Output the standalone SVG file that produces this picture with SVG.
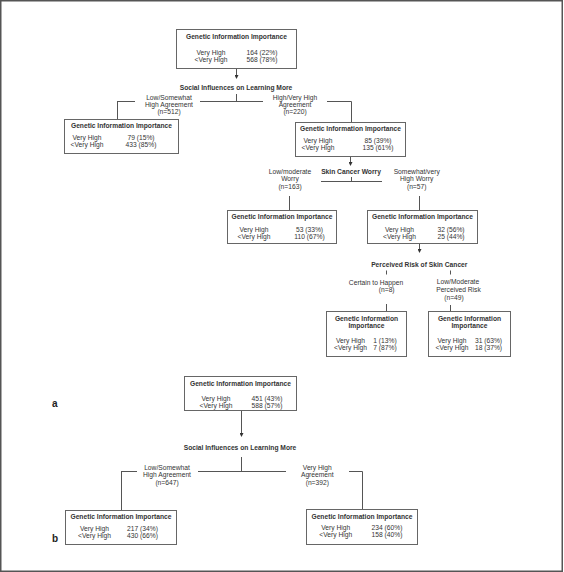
<svg xmlns="http://www.w3.org/2000/svg" width="564" height="572" viewBox="0 0 564 572">
<defs>
<marker id="ah" viewBox="0 0 10 10" refX="0" refY="5" markerWidth="4" markerHeight="4" markerUnits="userSpaceOnUse" orient="auto"><path d="M0,0 L10,5 L0,10 z" fill="#333"/></marker>
<style>
.box{fill:#fff;stroke:#666;stroke-width:1}
.t{font-family:"Liberation Sans",Arial,sans-serif;font-size:6.7px;fill:#333;text-anchor:middle}
.b{font-weight:bold}
.ln{stroke:#555;stroke-width:1;fill:none}
.lab{font-family:"Liberation Sans",Arial,sans-serif;font-size:10px;font-weight:bold;fill:#222}
</style>
</defs>
<rect x="0.75" y="0.75" width="561.5" height="570.5" fill="#fff" stroke="#555" stroke-width="1.5"/>

<g id="connectors">
<line class="ln" x1="236.5" y1="68.5" x2="236.5" y2="75" marker-end="url(#ah)"/>
<path class="ln" d="M236.5,94 V101.5 M117,101.5 H135 M200,101.5 H263 M327,101.5 H351.5 V122 M117.5,101.5 V119"/>
<line class="ln" x1="350.5" y1="156.5" x2="350.5" y2="162" marker-end="url(#ah)"/>
<path class="ln" d="M321,181.5 H382 M351.5,177 V181.5 M289.5,196 V210 M419.5,196 V210"/>
<line class="ln" x1="419.5" y1="243.5" x2="419.5" y2="249" marker-end="url(#ah)"/>
<path class="ln" d="M386.5,270.5 V274.5 M450.5,270.5 V274.5 M386.5,304 V311 M450.5,305 V311"/>
<line class="ln" x1="241.5" y1="410.5" x2="241.5" y2="433" marker-end="url(#ah)"/>
<path class="ln" d="M241.5,457 V471.5 M198,471.5 H286 M121,471.5 H137 M121.5,471.5 V510 M349,471.5 H362.5 V509.5"/>
</g>

<g id="split-labels">
<text class="t b" x="236" y="90">Social Influences on Learning More</text>
<text class="t" x="169" y="99.7">Low/Somewhat</text>
<text class="t" x="169" y="106.9">High Agreement</text>
<text class="t" x="169" y="114.1">(n=512)</text>
<text class="t" x="295" y="99.7">High/Very High</text>
<text class="t" x="295" y="106.9">Agreement</text>
<text class="t" x="295" y="114.1">(n=220)</text>
<text class="t b" x="351" y="173.5">Skin Cancer Worry</text>
<text class="t" x="290" y="173.5">Low/moderate</text>
<text class="t" x="290" y="181">Worry</text>
<text class="t" x="290" y="188.5">(n=163)</text>
<text class="t" x="416.7" y="173.5">Somewhat/very</text>
<text class="t" x="416.7" y="181">High Worry</text>
<text class="t" x="416.7" y="188.5">(n=57)</text>
<text class="t b" x="419.3" y="266.5">Perceived Risk of Skin Cancer</text>
<text class="t" x="376" y="285">Certain to Happen</text>
<text class="t" x="386.7" y="292.4">(n=8)</text>
<text class="t" x="458" y="284">Low/Moderate</text>
<text class="t" x="458.5" y="291.7">Perceived Risk</text>
<text class="t" x="454" y="299.7">(n=49)</text>
<text class="t b" x="240" y="450">Social Influences on Learning More</text>
<text class="t" x="167" y="469.7">Low/Somewhat</text>
<text class="t" x="167" y="477.2">High Agreement</text>
<text class="t" x="167" y="485">(n=647)</text>
<text class="t" x="317.3" y="469.7">Very High</text>
<text class="t" x="317.3" y="477.2">Agreement</text>
<text class="t" x="317.3" y="485">(n=392)</text>
<text class="lab" x="52" y="407">a</text>
<text class="lab" x="52" y="542">b</text>
</g>

<g id="a-root">
<rect class="box" x="176.5" y="29.5" width="120" height="39"/>
<text class="t b" x="236.5" y="39">Genetic Information Importance</text>
<text class="t" x="211" y="55">Very High</text><text class="t" x="262" y="55">164 (22%)</text>
<text class="t" x="211" y="62">&lt;Very High</text><text class="t" x="262" y="62">568 (78%)</text>
</g>

<g id="a-low-agree">
<rect class="box" x="64.5" y="119.5" width="114" height="34"/>
<text class="t b" x="121.5" y="128">Genetic Information Importance</text>
<text class="t" x="87" y="139.5">Very High</text><text class="t" x="141" y="139.5">79 (15%)</text>
<text class="t" x="87" y="146.5">&lt;Very High</text><text class="t" x="141" y="146.5">433 (85%)</text>
</g>

<g id="a-high-agree">
<rect class="box" x="295.5" y="122.5" width="110" height="34"/>
<text class="t b" x="350.5" y="131">Genetic Information Importance</text>
<text class="t" x="318" y="143">Very High</text><text class="t" x="378" y="143">85 (39%)</text>
<text class="t" x="318" y="150">&lt;Very High</text><text class="t" x="378" y="150">135 (61%)</text>
</g>

<g id="a-low-worry">
<rect class="box" x="227.5" y="210.5" width="109" height="33"/>
<text class="t b" x="282" y="219">Genetic Information Importance</text>
<text class="t" x="254" y="231.5">Very High</text><text class="t" x="309.5" y="231.5">53 (33%)</text>
<text class="t" x="254" y="238.5">&lt;Very High</text><text class="t" x="309.5" y="238.5">110 (67%)</text>
</g>

<g id="a-high-worry">
<rect class="box" x="367.5" y="210.5" width="110" height="33"/>
<text class="t b" x="422.5" y="219">Genetic Information Importance</text>
<text class="t" x="399.5" y="231.5">Very High</text><text class="t" x="451" y="231.5">32 (56%)</text>
<text class="t" x="399.5" y="238.5">&lt;Very High</text><text class="t" x="451" y="238.5">25 (44%)</text>
</g>

<g id="a-certain">
<rect class="box" x="326.5" y="311.5" width="80" height="45"/>
<text class="t b" x="366.5" y="320.5">Genetic Information</text>
<text class="t b" x="366.5" y="328.3">Importance</text>
<text class="t" x="350.5" y="342.5">Very High</text><text class="t" x="385" y="342.5">1 (13%)</text>
<text class="t" x="350.5" y="350">&lt;Very High</text><text class="t" x="385" y="350">7 (87%)</text>
</g>

<g id="a-lowrisk">
<rect class="box" x="428.5" y="311.5" width="82" height="45"/>
<text class="t b" x="469.5" y="320.5">Genetic Information</text>
<text class="t b" x="469.5" y="328.3">Importance</text>
<text class="t" x="452" y="342.5">Very High</text><text class="t" x="488.5" y="342.5">31 (63%)</text>
<text class="t" x="452" y="350">&lt;Very High</text><text class="t" x="488.5" y="350">18 (37%)</text>
</g>

<g id="b-root">
<rect class="box" x="184.5" y="376.5" width="112" height="34"/>
<text class="t b" x="240.5" y="386">Genetic Information Importance</text>
<text class="t" x="216" y="401">Very High</text><text class="t" x="267" y="401">451 (43%)</text>
<text class="t" x="216" y="408">&lt;Very High</text><text class="t" x="267" y="408">588 (57%)</text>
</g>

<g id="b-low-agree">
<rect class="box" x="65.5" y="510.5" width="111" height="34"/>
<text class="t b" x="121" y="519">Genetic Information Importance</text>
<text class="t" x="94.5" y="530.5">Very High</text><text class="t" x="142.5" y="530.5">217 (34%)</text>
<text class="t" x="94.5" y="537.5">&lt;Very High</text><text class="t" x="142.5" y="537.5">430 (66%)</text>
</g>

<g id="b-high-agree">
<rect class="box" x="306.5" y="509.5" width="111" height="35"/>
<text class="t b" x="362" y="518.5">Genetic Information Importance</text>
<text class="t" x="335.7" y="530">Very High</text><text class="t" x="387" y="530">234 (60%)</text>
<text class="t" x="335.7" y="537">&lt;Very High</text><text class="t" x="387" y="537">158 (40%)</text>
</g>
</svg>
